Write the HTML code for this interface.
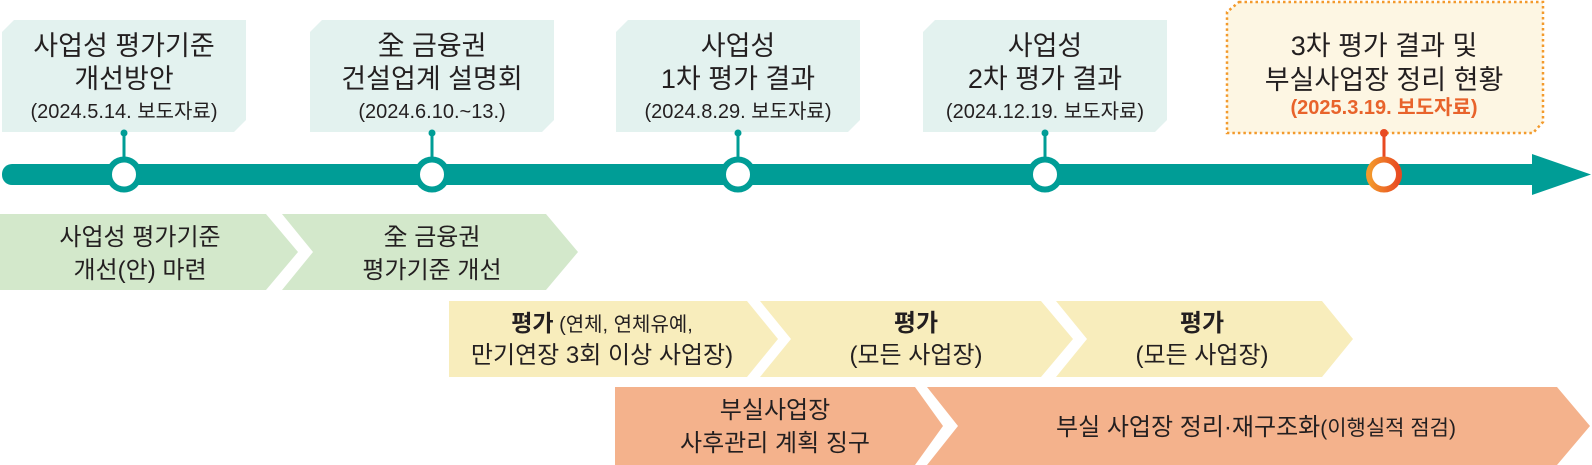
<!DOCTYPE html>
<html><head><meta charset="utf-8"><style>
body{margin:0;background:#fff;}
svg{display:block}
text{font-family:"Liberation Sans","Noto Sans CJK KR",sans-serif;fill:#231f20;text-anchor:middle}
.t{font-size:27px}
.d{font-size:20px}
.c{font-size:24px}
</style></head><body>
<svg width="1592" height="465" viewBox="0 0 1592 465" xmlns="http://www.w3.org/2000/svg">
<defs><linearGradient id="og" x1="0" x2="1"><stop offset="0" stop-color="#f39a2c"/><stop offset="1" stop-color="#e84a22"/></linearGradient></defs>
<g fill="#e3f2ef">
<polygon points="14,20 246,20 246,120 234,132 2,132 2,32"/>
<polygon points="322,20 554,20 554,120 542,132 310,132 310,32"/>
<polygon points="628,20 860,20 860,120 848,132 616,132 616,32"/>
<polygon points="935,20 1167,20 1167,120 1155,132 923,132 923,32"/>
</g>
<polygon points="1239,2 1543,2 1543,122 1533,133 1227,133 1227,12" fill="#fdf6e3" stroke="#f39a2c" stroke-width="2.5" stroke-dasharray="2.5 3"/>
<text class="t" x="124" y="55">사업성 평가기준</text><text class="t" x="124" y="88">개선방안</text><text class="d" x="124" y="118">(2024.5.14. 보도자료)</text>
<text class="t" x="432" y="55">全 금융권</text><text class="t" x="432" y="88">건설업계 설명회</text><text class="d" x="432" y="118">(2024.6.10.~13.)</text>
<text class="t" x="738" y="55">사업성</text><text class="t" x="738" y="88">1차 평가 결과</text><text class="d" x="738" y="118">(2024.8.29. 보도자료)</text>
<text class="t" x="1045" y="55">사업성</text><text class="t" x="1045" y="88">2차 평가 결과</text><text class="d" x="1045" y="118">(2024.12.19. 보도자료)</text>
<text class="t" x="1384" y="55" font-size="28">3차 평가 결과 및</text><text class="t" x="1384" y="89" font-size="28">부실사업장 정리 현황</text><text class="d" x="1384" y="114" style="fill:#e8632b;font-weight:bold">(2025.3.19. 보도자료)</text>
<rect x="2" y="164" width="1540" height="21" rx="10" fill="#009d96"/>
<polygon points="1532,154 1591,174.5 1532,195" fill="#009d96"/>
<g stroke="#009d96" stroke-width="3" fill="#009d96">
<line x1="124" y1="133" x2="124" y2="158"/><circle cx="124" cy="133" r="3.5" stroke="none"/>
<line x1="432" y1="133" x2="432" y2="158"/><circle cx="432" cy="133" r="3.5" stroke="none"/>
<line x1="738" y1="133" x2="738" y2="158"/><circle cx="738" cy="133" r="3.5" stroke="none"/>
<line x1="1045" y1="133" x2="1045" y2="158"/><circle cx="1045" cy="133" r="3.5" stroke="none"/>
</g>
<line x1="1384" y1="133" x2="1384" y2="158" stroke="#e84a22" stroke-width="3"/><circle cx="1384" cy="133" r="4" fill="#e84a22"/>
<g fill="#fff" stroke="#009d96" stroke-width="6">
<circle cx="124" cy="174.5" r="15"/><circle cx="432" cy="174.5" r="15"/><circle cx="738" cy="174.5" r="15"/><circle cx="1045" cy="174.5" r="15"/>
</g>
<circle cx="1384" cy="174.5" r="15" fill="#fff" stroke="url(#og)" stroke-width="6"/>
<g fill="#d3e8cb">
<polygon points="0,214 266,214 298,252 266,290 0,290"/>
<polygon points="282,214 546,214 578,252 546,290 282,290 313,252"/>
</g>
<text class="c" x="140" y="245">사업성 평가기준</text><text class="c" x="140" y="278">개선(안) 마련</text>
<text class="c" x="432" y="245">全 금융권</text><text class="c" x="432" y="278">평가기준 개선</text>
<g fill="#f8edbc">
<polygon points="449,301 747,301 778,339 747,377 449,377"/>
<polygon points="760,301 1041,301 1073,339 1041,377 760,377 791,339"/>
<polygon points="1056,301 1322,301 1353,339 1322,377 1056,377 1087,339"/>
</g>
<text class="c" x="602" y="331"><tspan font-weight="bold" font-size="23">평가</tspan><tspan font-size="20"> (연체, 연체유예,</tspan></text>
<text class="c" x="602" y="363" font-size="21">만기연장 3회 이상 사업장)</text>
<text class="c" x="916" y="331" font-weight="bold" font-size="23">평가</text><text class="c" x="916" y="363" font-size="21">(모든 사업장)</text>
<text class="c" x="1202" y="331" font-weight="bold" font-size="23">평가</text><text class="c" x="1202" y="363" font-size="21">(모든 사업장)</text>
<g fill="#f4b28c">
<polygon points="615,387 915,387 943,426 915,465 615,465"/>
<polygon points="927,387 1557,387 1590,426 1557,465 927,465 958,426"/>
</g>
<text class="c" x="775" y="418">부실사업장</text><text class="c" x="775" y="451">사후관리 계획 징구</text>
<text class="c" x="1256" y="435" font-size="26">부실 사업장 정리·재구조화<tspan font-size="21">(이행실적 점검)</tspan></text>
</svg>
</body></html>
